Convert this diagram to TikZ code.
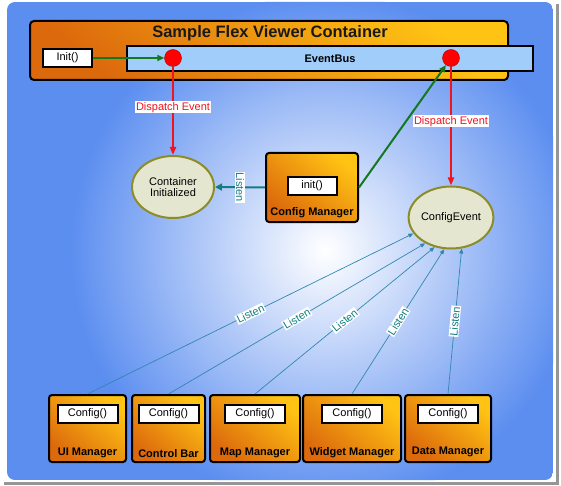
\documentclass[tikz,border=0pt]{standalone}
\usepackage{fontspec}
\setmainfont{Liberation Sans}
\usepackage{tikz}
\usetikzlibrary{arrows.meta,positioning,shapes.geometric}
\definecolor{bgblue}{RGB}{92,142,240}
\definecolor{shgrey}{RGB}{150,150,150}
\definecolor{odark}{RGB}{220,105,12}
\definecolor{omid}{RGB}{240,140,10}
\definecolor{olight}{RGB}{255,195,20}
\definecolor{busblue}{RGB}{160,205,250}
\definecolor{evfill}{RGB}{228,230,208}
\definecolor{evline}{RGB}{140,140,40}
\definecolor{dgreen}{RGB}{20,120,30}
\definecolor{dred}{RGB}{240,20,30}
\definecolor{lteal}{RGB}{20,125,130}
\definecolor{lblue}{RGB}{50,135,175}
\newcommand{\fsz}[1]{\fontsize{#1}{#1}\selectfont}

\begin{document}
\begin{tikzpicture}[
    x=1pt, y=-1pt,
    every node/.style={font=\fsz{11}},
    mgrbox/.style={draw=black, line width=2pt, rounded corners=3pt, inner sep=0,
        bottom color=odark, middle color=omid, top color=olight, shading angle=-40},
    fnbox/.style={draw=black, line width=2pt, fill=white, inner sep=0,
        minimum width=60pt, minimum height=18pt},
    mgrlbl/.style={font=\bfseries\fsz{11}, inner sep=1pt},
    evdot/.style={circle, draw=red!70!black, fill=red, minimum size=17pt, inner sep=0},
    evshape/.style={ellipse, draw=evline, line width=2pt, fill=evfill, align=center,
        minimum width=82pt, minimum height=62pt, inner sep=0},
    fire/.style={draw=dgreen, line width=2pt, -{Triangle[length=7pt,width=6pt]}},
    dispatch/.style={draw=dred, line width=2.2pt, -{Triangle[length=8pt,width=6pt]}},
    dlbl/.style={fill=white, text=dred, inner sep=1pt},
    hear/.style={draw=lteal, line width=2pt, -{Triangle[length=7pt,width=7pt]}},
    listen/.style={draw=lblue, line width=0.7pt, -{Triangle[length=5pt,width=4pt]}},
    llbl/.style={fill=white, text=lteal, inner sep=0.8pt, font=\fsz{11}}]

\useasboundingbox (0,0) rectangle (561,486);
% frame
\fill[white] (0,0) rectangle (561,486);
\fill[shgrey] (4,4) rectangle (559,485);
\fill[white] (0,0) rectangle (556,482);
\begin{scope}
\clip[rounded corners=8pt] (7,2) rectangle (553,480);
\fill[bgblue] (7,2) rectangle (553,480);
\shade[inner color=white, outer color=bgblue] (325,250) circle (255);
\end{scope}

% container and bus
\node[mgrbox, rounded corners=4pt, minimum width=478pt, minimum height=59pt] (fvc) at (269,50.5) {};
\node[font=\bfseries\fsz{16.5}, text=black!90] (ttl) at (270,33) {Sample Flex Viewer Container};
\node[draw=black, line width=2pt, fill=busblue, minimum width=406pt, minimum height=25pt, inner sep=0,
      font=\bfseries\fsz{11}] (bus) at (330,58.5) {EventBus};
\node[fnbox, minimum width=49pt] (init) at (67.5,58) {Init()};
\node[evdot] (ev1) at (173,58) {};
\node[evdot] (ev2) at (451,58) {};

% events
\node[evshape] (cinit) at (173,187) {Container\\Initialized};
\node[evshape] (cfgevt) at (451,217.5) {ConfigEvent};

% config manager
\node[mgrbox, minimum width=92pt, minimum height=69pt] (cfgmgr) at (312,187.5) {};
\node[fnbox, minimum width=49pt, below=24pt of cfgmgr.north] (cmfn) {init()};
\node[mgrlbl, above=4pt of cfgmgr.south] {Config Manager};

% managers
\node[mgrbox, minimum width=77pt, minimum height=67pt] (ui) at (87.5,428.5) {};
\node[mgrbox, minimum width=73pt, minimum height=67pt] (cbar) at (168.5,428.5) {};
\node[mgrbox, minimum width=90pt, minimum height=67pt] (map) at (255,428.5) {};
\node[mgrbox, minimum width=98pt, minimum height=67pt] (wgt) at (352,428.5) {};
\node[mgrbox, minimum width=86pt, minimum height=67pt] (data) at (448,428.5) {};
\node[fnbox, below=10pt of ui.north] {Config()};
\node[fnbox, below=10pt of cbar.north] {Config()};
\node[fnbox, below=10pt of map.north] {Config()};
\node[fnbox, below=10pt of wgt.north] {Config()};
\node[fnbox, below=10pt of data.north] {Config()};
\node[mgrlbl, above=4pt of ui.south] {UI Manager};
\node[mgrlbl, above=4pt of cbar.south] {Control Bar};
\node[mgrlbl, above=4pt of map.south] {Map Manager};
\node[mgrlbl, above=4pt of wgt.south] {Widget Manager};
\node[mgrlbl, above=5pt of data.south] {Data Manager};

% connectors
\draw[fire] (init.east) -- (ev1);
\draw[fire] (cfgmgr.east) -- (ev2);
\draw[dispatch] (ev1.south) -- node[dlbl, pos=.46] {Dispatch Event} (cinit.north);
\draw[dispatch] (ev2.south) -- node[dlbl, pos=.46] {Dispatch Event} (cfgevt.north);
\draw[hear] (cfgmgr.west) -- node[llbl, rotate=-90] {Listen} (cinit.east);

\draw[listen] (ui.north) -- node[llbl, sloped] {Listen} (cfgevt.203);
\draw[listen] (cbar.north) -- node[llbl, sloped] {Listen} (cfgevt.225);
\draw[listen] (map.north) -- node[llbl, sloped] {Listen} (cfgevt.241);
\draw[listen] (wgt.north) -- node[llbl, sloped] {Listen} (cfgevt.258);
\draw[listen] (data.north) -- node[llbl, sloped] {Listen} (cfgevt.289);

\end{tikzpicture}
\end{document}
